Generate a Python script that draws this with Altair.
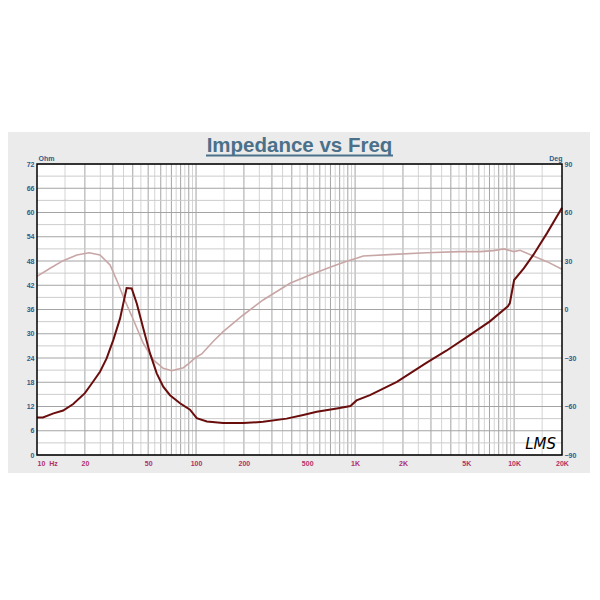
import altair as alt
import pandas as pd

# ---- data ----
imp_freq = [10, 10.9, 12.7, 14.6, 16.9, 20, 22.1, 24.9, 27.4, 30.2, 33.3, 36.6, 39.4, 42.4,
            46.6, 51.3, 56.6, 62.2, 68.6, 79.3, 91.6, 101, 117, 148, 198, 264, 371, 472,
            574, 768, 935, 1021, 1240, 1832, 2806, 3748, 5010, 7006, 9138, 9400, 10000,
            11500, 13200, 16100, 20000]
imp_ohm = [9.3, 9.3, 10.3, 11.0, 12.6, 15.3, 17.7, 20.6, 23.9, 28.5, 33.8, 41.3, 41.2, 37.5,
           31.3, 25.2, 20.2, 16.9, 14.8, 12.8, 11.2, 9.1, 8.3, 7.9, 7.9, 8.2, 9.0, 9.9,
           10.7, 11.5, 12.1, 13.5, 14.8, 18.1, 22.8, 25.8, 29.1, 33.0, 36.8, 37.6, 43.3,
           46.2, 49.5, 54.9, 61.2]

phase_freq = [10, 12.1, 14.6, 17.8, 21.3, 24.9, 28.8, 31.7, 34.9, 40.4, 46.6, 53.9, 62.2,
              70.3, 83.3, 91, 100, 108.6, 128, 148, 198, 264, 390, 520, 696, 866, 1021,
              1125, 1745, 2806, 4550, 6100, 7390, 8640, 9950, 10900, 13200, 16100, 20000]
phase_deg = [20.5, 25.5, 30.2, 33.7, 35.1, 33.7, 27.5, 18.2, 7.9, -6.5, -20.9, -31.2, -36.4,
             -37.9, -36.0, -33.0, -29.5, -27.5, -19.8, -13.7, -3.4, 5.9, 16.2, 21.3, 26.1,
             29.6, 31.7, 33.1, 34.1, 35.1, 35.8, 35.8, 36.4, 37.5, 35.8, 36.6, 33.1, 29.6,
             24.9]

x_tick_values = [10, 20, 50, 100, 200, 500, 1000, 2000, 5000, 10000, 20000]
x_tick_labels = ["10\u00a0\u00a0Hz", "20", "50", "100", "200", "500", "1K", "2K", "5K", "10K", "20K"]
ohm_ticks = list(range(0, 73, 6))
ohm_minor = list(range(3, 72, 6))
deg_ticks = list(range(-90, 91, 30))
decades = [10, 100, 1000, 10000]
major_mult = [1, 2, 3, 4, 5, 6, 7, 8, 9]
minor_mult = [1.5, 2.5, 3.5, 4.5, 5.5, 6.5, 7.5, 8.5, 9.5]
title_text = "Impedance vs Freq"
logo_text = "LMS"

grid_major = [d * m for d in decades for m in major_mult if 10 < d * m < 20000]
grid_minor = [d * m for d in decades for m in minor_mult if d * m < 20000]

W, H = 525, 291
FONT = "Liberation Sans"
IMP_COLOR = "#6a0d0d"
PHASE_COLOR = "#c9a6a6"
BLUE = "#2b5d8c"
PINK = "#b0306a"
TITLE_COLOR = "#4b7089"

imp_df = pd.DataFrame({"f": imp_freq, "v": imp_ohm})
ph_df = pd.DataFrame({"f": phase_freq, "v": phase_deg})
vmaj_df = pd.DataFrame({"f": grid_major})
vmin_df = pd.DataFrame({"f": grid_minor})
hmaj_df = pd.DataFrame({"v": ohm_ticks})
hmin_df = pd.DataFrame({"v": ohm_minor})
one = pd.DataFrame({"t": [title_text]})
logo = pd.DataFrame({"t": [logo_text]})

label_expr = " : ".join(
    f"datum.value == {v} ? '{l}'" for v, l in zip(x_tick_values, x_tick_labels)
) + " : ''"

x_scale = alt.Scale(type="log", domain=[10, 20000], nice=False)
x_axis = alt.Axis(values=x_tick_values, labelExpr=label_expr, title=None, grid=False,
                  ticks=False, domain=False, labelColor=PINK, labelFont=FONT,
                  labelFontSize=7, labelFontWeight="bold", labelPadding=4,
                  labelFlush=False, zindex=2,
                  labelAlign={"condition": {"test": "datum.value == 10", "value": "left"},
                              "value": "center"})
X = alt.X("f:Q", scale=x_scale, axis=x_axis)

ohm_scale = alt.Scale(domain=[0, 72], nice=False, zero=False)
deg_scale = alt.Scale(domain=[-90, 90], nice=False, zero=False)

panel = alt.Chart(one).mark_rect(color="#ebebeb").encode(
    x=alt.value(-29), x2=alt.value(553), y=alt.value(-32), y2=alt.value(309))
plotbg = alt.Chart(one).mark_rect(color="white").encode(
    x=alt.value(0), x2=alt.value(W), y=alt.value(0), y2=alt.value(H))

vmin = alt.Chart(vmin_df).mark_rule(color="#d4d4d4", strokeWidth=1).encode(x=X)
vmaj = alt.Chart(vmaj_df).mark_rule(color="#a4a4a4", strokeWidth=1).encode(x=X)
hmin = alt.Chart(hmin_df).mark_rule(color="#cccccc", strokeWidth=1).encode(
    y=alt.Y("v:Q", scale=ohm_scale, axis=None))
hmaj = alt.Chart(hmaj_df).mark_rule(color="#a4a4a4", strokeWidth=1).encode(
    y=alt.Y("v:Q", scale=ohm_scale, axis=None))

phase = alt.Chart(ph_df).mark_line(color=PHASE_COLOR, strokeWidth=1.6).encode(
    x=X,
    y=alt.Y("v:Q", scale=deg_scale,
            axis=alt.Axis(orient="right", values=deg_ticks, grid=False, ticks=False,
                          domain=False, labelColor=BLUE, labelFont=FONT, labelFontSize=7,
                          labelFontWeight="bold", labelPadding=2, labelFlush=False,
                          zindex=2,
                          title="Deg", titleAngle=0, titleAlign="right",
                          titleBaseline="alphabetic", titleX=0, titleY=-4,
                          titleFont=FONT, titleFontSize=7, titleFontWeight="bold",
                          titleColor=BLUE)))

imp = alt.Chart(imp_df).mark_line(color=IMP_COLOR, strokeWidth=2).encode(
    x=X,
    y=alt.Y("v:Q", scale=ohm_scale,
            axis=alt.Axis(orient="left", values=ohm_ticks, grid=False, ticks=False,
                          domain=False, labelColor=BLUE, labelFont=FONT, labelFontSize=7,
                          labelFontWeight="bold", labelPadding=3, labelFlush=False,
                          zindex=2,
                          title="Ohm", titleAngle=0, titleAlign="left",
                          titleBaseline="alphabetic", titleX=1, titleY=-4,
                          titleFont=FONT, titleFontSize=7, titleFontWeight="bold",
                          titleColor=BLUE)))

border = alt.Chart(one).mark_rect(fillOpacity=0, stroke="black", strokeWidth=1.5).encode(
    x=alt.value(0), x2=alt.value(W), y=alt.value(0), y2=alt.value(H))

title = alt.Chart(one).mark_text(font=FONT, fontSize=20.5, fontWeight="bold",
                                 color=TITLE_COLOR, align="center",
                                 baseline="alphabetic").encode(
    text="t:N", x=alt.value(W / 2), y=alt.value(-12.5))
underline = alt.Chart(one).mark_rule(color=TITLE_COLOR, strokeWidth=2).encode(
    x=alt.value(169), x2=alt.value(356), y=alt.value(-8.5))

logo_mark = alt.Chart(logo).mark_text(font="DejaVu Sans", fontSize=15, fontStyle="italic",
                                      fontWeight=200, color="black", align="right",
                                      baseline="alphabetic").encode(
    text="t:N", x=alt.value(519), y=alt.value(285))

chart = alt.layer(
    panel, plotbg, vmin, vmaj, hmin, hmaj, phase, imp, border, title, underline, logo_mark
).resolve_scale(y="independent").properties(
    width=W, height=H,
    autosize=alt.AutoSizeParams(type="none"),
    padding={"left": 29, "top": 156, "right": 30, "bottom": 120},
    background="white",
).configure_view(stroke=None)

chart.save("out.html", embed_options={"renderer": "svg", "actions": False})
